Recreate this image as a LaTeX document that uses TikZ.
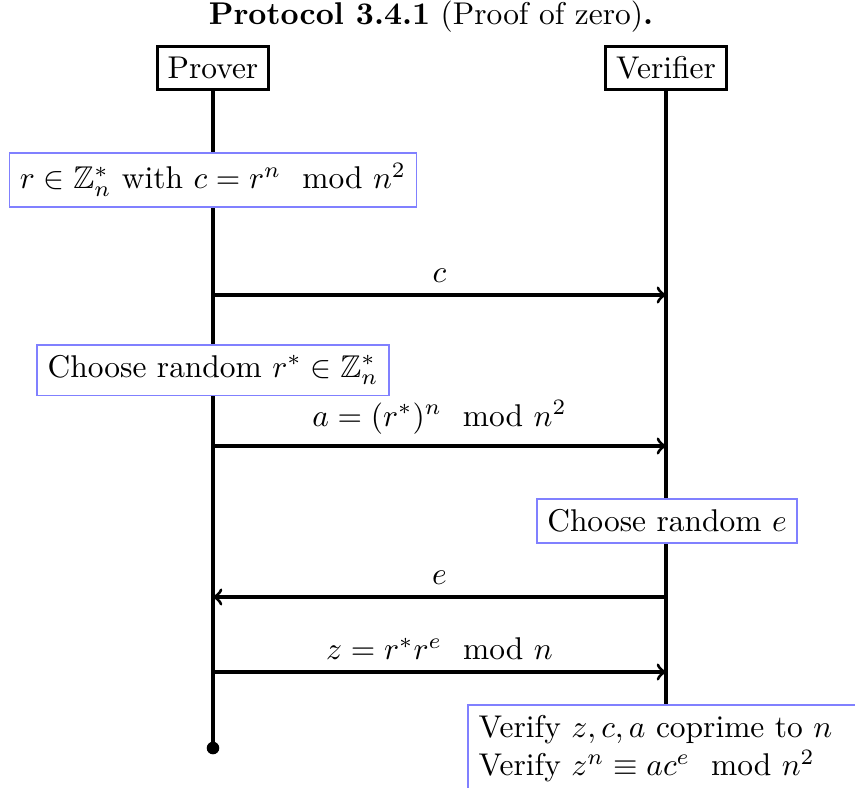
\documentclass[tikz,border=0pt]{standalone}
\usepackage{amsmath,amssymb}
\tikzset{
  actor/.style={draw, line width=1pt, fill=white},
  note/.style={draw=blue!50, line width=0.6pt, fill=white},
  life/.style={line width=1pt},
  msg/.style={line width=1pt, ->},
}
\begin{document}
\begin{tikzpicture}[x=0.318pt,y=-0.318pt]
\useasboundingbox (0,0) rectangle (855,787);
\node (title) at (431,17) {\textbf{Protocol 3.4.1} (Proof of zero)\textbf{.}};
\node[actor] (P) at (213,68) {Prover};
\node[actor] (V) at (666,68) {Verifier};
\coordinate (Pend) at (213,748);
\coordinate (Vend) at (666,705);
\draw[life] (P) -- (Pend);
\fill (Pend) circle (2pt);
\draw[life] (V) -- (Vend);
\node[note] (n1) at (213,180) {$r \in \mathbb{Z}_n^*$ with $c = r^n \mod n^2$};
\coordinate (p1) at (213,295); \coordinate (v1) at (666,295);
\draw[msg] (p1) -- node[above] {$c$} (v1);
\node[note] (n2) at (213,370) {Choose random $r^* \in \mathbb{Z}_n^*$};
\coordinate (p2) at (213,446); \coordinate (v2) at (666,446);
\draw[msg] (p2) -- node[above] {$a = (r^*)^n \mod n^2$} (v2);
\node[note] (n3) at (667,521) {Choose random $e$};
\coordinate (p3) at (213,597); \coordinate (v3) at (666,597);
\draw[msg] (v3) -- node[above] {$e$} (p3);
\coordinate (p4) at (213,672); \coordinate (v4) at (666,672);
\draw[msg] (p4) -- node[above] {$z = r^* r^e \mod n$} (v4);
\node[note, anchor=north west, align=left, text width=130pt, inner sep=3.4pt] (n4) at (467,704) {Verify $z, c, a$ coprime to $n$\\Verify $z^n \equiv a c^e \mod n^2$};
\end{tikzpicture}
\end{document}
